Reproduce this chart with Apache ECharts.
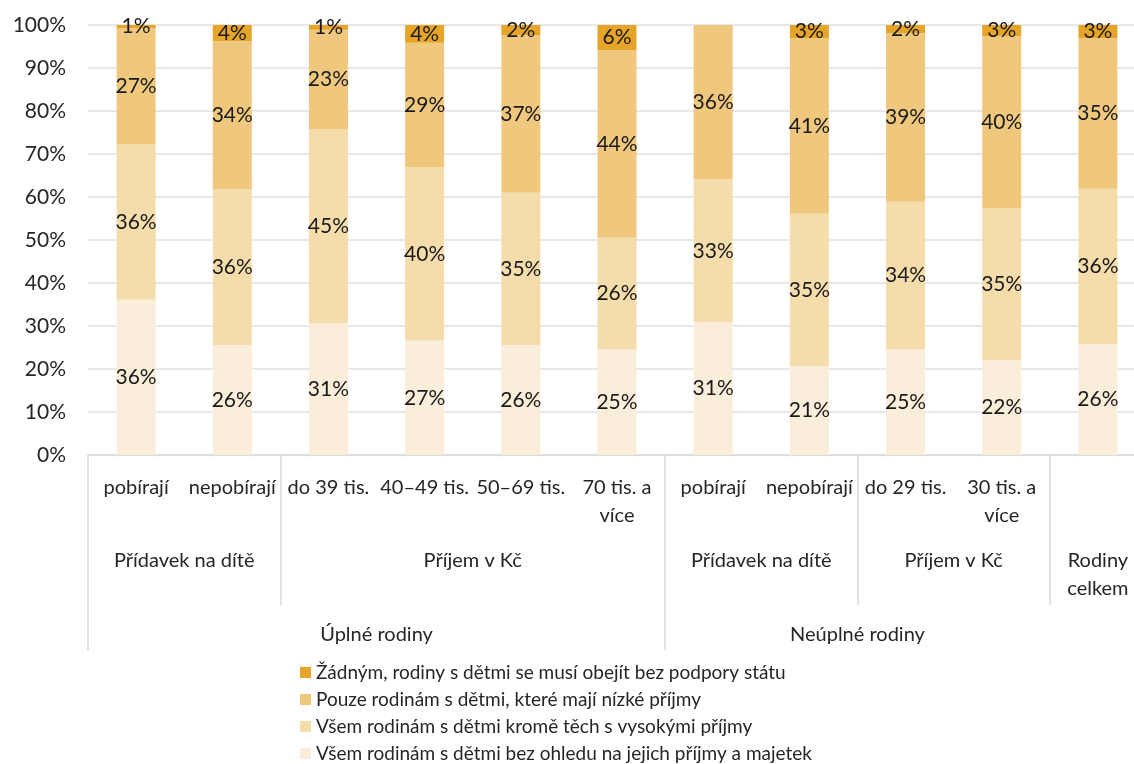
<!DOCTYPE html>
<html><head><meta charset="utf-8">
<script src="https://cdn.jsdelivr.net/npm/echarts@6/dist/echarts.min.js"></script>
<style>html,body{margin:0;padding:0;background:#fff;overflow:hidden}#c{width:1134px;height:764px}</style>
</head><body><div id="c"></div>
<script>
// Level-1 category labels (one per bar)
const categories = ['pobírají','nepobírají','do 39 tis.','40–49 tis.','50–69 tis.','70 tis. a\nvíce','pobírají','nepobírají','do 29 tis.','30 tis. a\nvíce',''];
// Level-2 groups and how many bars each spans
const groups2 = ['Přídavek na dítě','Příjem v Kč','Přídavek na dítě','Příjem v Kč','Rodiny\ncelkem'];
const spans2 = [2,4,2,2,1];
// Level-3 groups
const groups3 = ['Úplné rodiny','Neúplné rodiny',''];
const spans3 = [6,4,1];
// Series (bottom to top)
const seriesNames = [
  'Všem rodinám s dětmi bez ohledu na jejich příjmy a majetek',
  'Všem rodinám s dětmi kromě těch s vysokými příjmy',
  'Pouze rodinám s dětmi, které mají nízké příjmy',
  'Žádným, rodiny s dětmi se musí obejít bez podpory státu'
];
const vsemBezOhledu = [36.1,25.6,30.7,26.6,25.6,24.6,30.9,20.7,24.6,22.1,25.8];
const vsemKromeVysokych = [36.2,36.2,45.1,40.4,35.4,25.9,33.2,35.4,34.3,35.3,36.1];
const pouzeNizke = [27.0,34.4,23.1,28.9,36.7,43.6,35.9,40.9,39.2,40.0,35.1];
const zadnym = [0.7,3.8,1.1,4.1,2.3,5.9,0,3.0,1.9,2.6,3.0];
const yTicks = [0,10,20,30,40,50,60,70,80,90,100];

const colors = ['#FAEEDA','#F5DCAB','#EFC87E','#E6A428'];
const FONT = 'Lato';

// Build half-unit axes (23 points) for group labels
function buildLevel(groups, spans){
  const labels = new Array(23).fill('');
  let start = 0;
  groups.forEach((g,i)=>{
    labels[2*start + spans[i]] = g;
    start += spans[i];
  });
  return labels;
}
const L2 = buildLevel(groups2, spans2);
const L3 = buildLevel(groups3, spans3);
const l3Bounds = new Set([0,12]);
const l2Bounds = new Set([4,16,20]);

const data = [vsemBezOhledu, vsemKromeVysokych, pouzeNizke, zadnym];

const chart = echarts.init(document.getElementById('c'));
chart.setOption({
  animation:false,
  textStyle:{fontFamily:FONT},
  grid:{left:88, width:1058, top:25, height:430, containLabel:false, outerBoundsMode:'none'},
  legend:{
    orient:'vertical', left:295, top:658, height:130, itemWidth:11, itemHeight:11, itemGap:8,
    icon:'rect', selectedMode:false,
    textStyle:{fontFamily:FONT, fontSize:19, color:'#262626', lineHeight:16},
    data:[seriesNames[3],seriesNames[2],seriesNames[1],seriesNames[0]]
  },
  xAxis:[
    {type:'category', data:categories, gridIndex:0,
     axisLine:{show:true, lineStyle:{color:'#d9d9d9', width:1.5}},
     axisTick:{show:false},
     axisLabel:{interval:0, margin:19, fontFamily:FONT, fontSize:20, color:'#262626', lineHeight:28, verticalAlign:'top'}},
    {type:'category', data:L2, boundaryGap:false, position:'bottom', gridIndex:0,
     axisLine:{show:false},
     axisTick:{show:true, length:150, interval:(i)=>l2Bounds.has(i), lineStyle:{color:'#d9d9d9', width:1.5}},
     axisLabel:{interval:0, margin:92, fontFamily:FONT, fontSize:20, color:'#262626', lineHeight:28, verticalAlign:'top'}},
    {type:'category', data:L3, boundaryGap:false, position:'bottom', gridIndex:0,
     axisLine:{show:false},
     axisTick:{show:true, length:195, interval:(i)=>l3Bounds.has(i), lineStyle:{color:'#d9d9d9', width:1.5}},
     axisLabel:{interval:0, margin:166, fontFamily:FONT, fontSize:20, color:'#262626', lineHeight:28, verticalAlign:'top'}}
  ],
  yAxis:{type:'value', min:yTicks[0], max:yTicks[yTicks.length-1], interval:10,
    axisLine:{show:false}, axisTick:{show:false},
    splitLine:{lineStyle:{color:'#e0e0e0', width:1.5}},
    axisLabel:{margin:22, fontFamily:FONT, fontSize:21, color:'#262626', formatter:'{value}%'}},
  series: data.map((d,i)=>({
    name:seriesNames[i], type:'bar', stack:'s', xAxisIndex:0, barWidth:39,
    itemStyle:{color:colors[i]},
    label:{show:true, position:'inside', fontFamily:FONT, fontSize:21, color:'#1a1a1a',
      formatter:(p)=> p.value>0 ? Math.round(p.value)+'%' : ''},
    data:d
  }))
});
</script></body></html>
